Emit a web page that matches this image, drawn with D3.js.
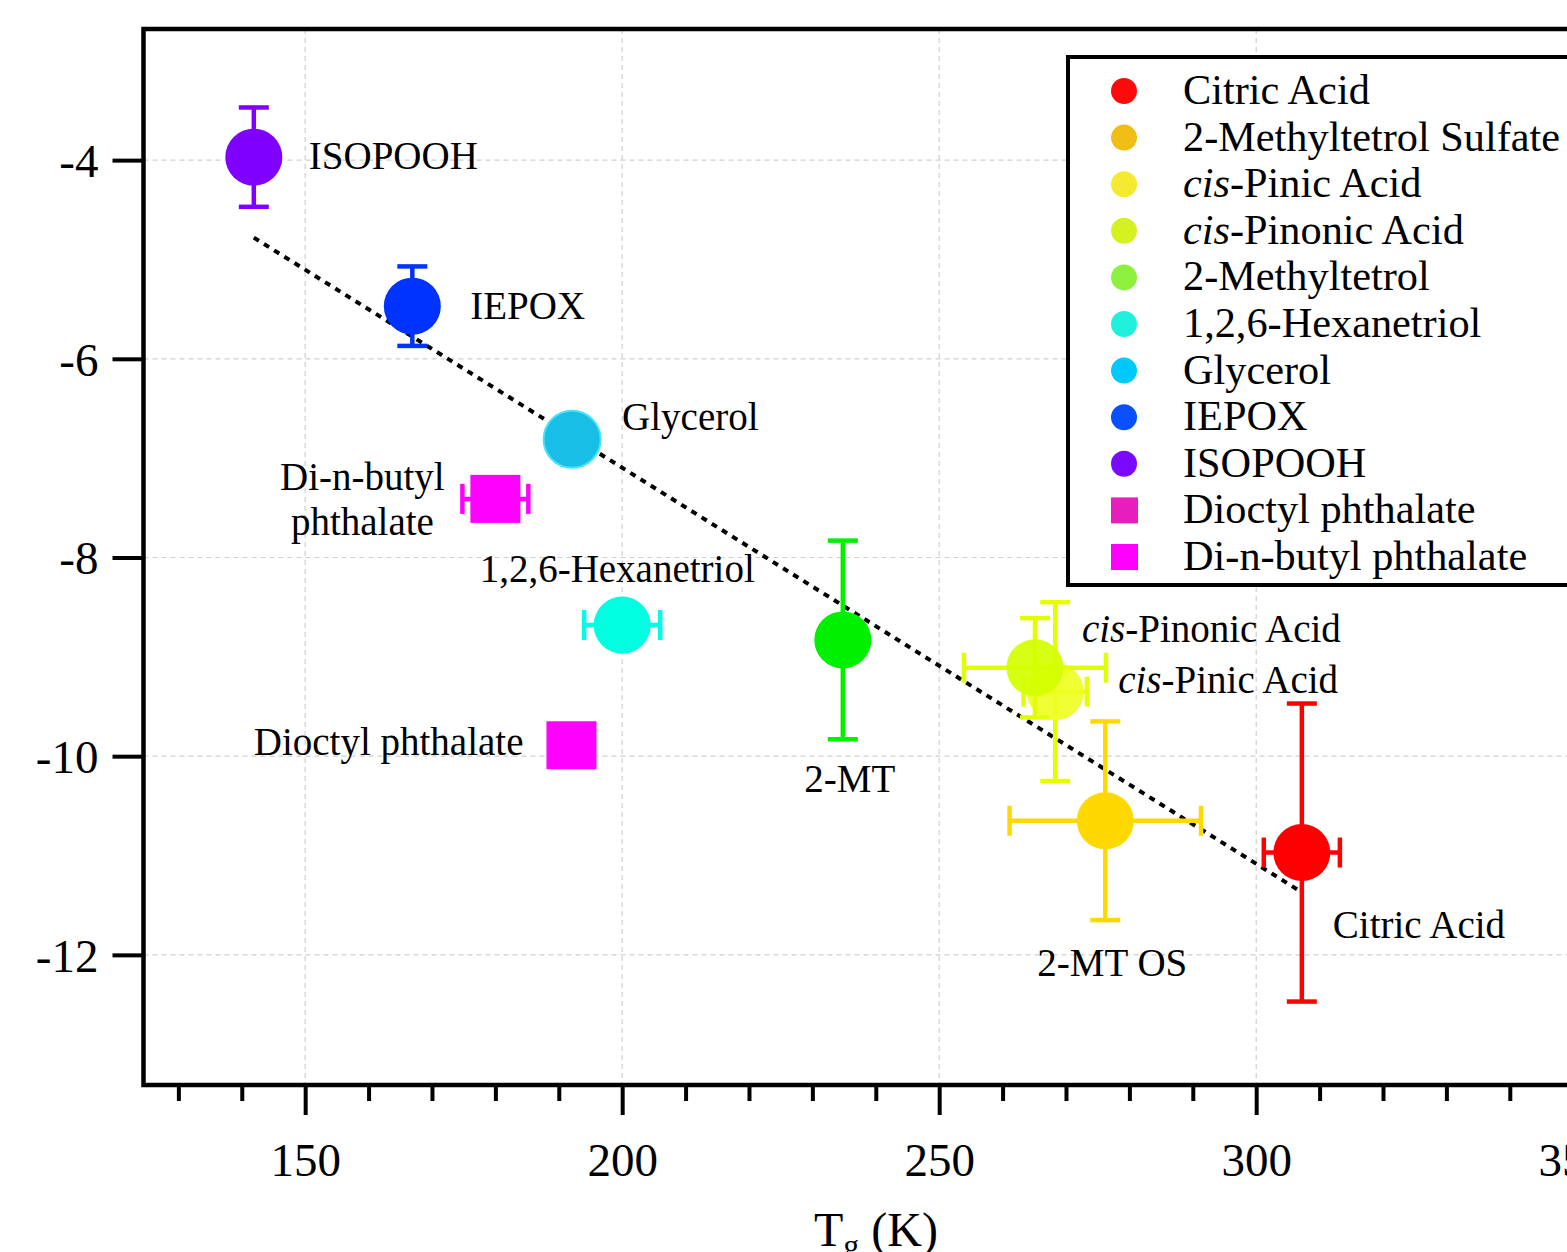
<!DOCTYPE html>
<html>
<head>
<meta charset="utf-8">
<script src="https://cdn.jsdelivr.net/npm/d3@7"></script>
<style>
  html, body { margin: 0; padding: 0; background: #fff; overflow: hidden; }
  svg { display: block; font-family: "Liberation Serif", "Times New Roman", serif; }
</style>
</head>
<body>
<svg id="chart" width="1567" height="1252"></svg>
<script>
// Glass transition temperature vs. log value for each compound
const compounds = ["ISOPOOH", "IEPOX", "Glycerol", "Di-n-butyl phthalate", "1,2,6-Hexanetriol",
  "Dioctyl phthalate", "2-MT", "cis-Pinic Acid", "cis-Pinonic Acid", "2-MT OS", "Citric Acid"];
const tgValues   = [141.9, 166.9, 192.1, 180.0, 200.0, 192.0, 234.8, 268.3, 265.1, 276.2, 307.2];
const logValues  = [-3.97, -5.47, -6.81, -7.41, -8.68, -9.89, -8.83, -9.35, -9.11, -10.65, -10.97];
const tgErrors   = [0, 0, 0, 5.2, 6.0, 0, 0, 5.0, 11.2, 15.1, 6.0];
const logErrors  = [0.5, 0.4, 0, 0, 0, 0, 1.0, 0.9, 0.5, 1.0, 1.5];
const markerShapes = ["circle", "circle", "circle", "square", "circle", "square", "circle", "circle", "circle", "circle", "circle"];
const markerColors = ["#7f00ff", "#0033ff", "#19bee6", "#ff00ff", "#00ffe1", "#ff00ff", "#00f000", "#eeff22", "#d4ff00", "#ffd800", "#ff0000"];
const errorColors  = ["#7f00ff", "#0033ff", "#19bee6", "#ff00ff", "#00ffe1", "#ff00ff", "#00f000", "#e6ff00", "#e2ff00", "#ffd800", "#ff0000"];

// Linear trend (dotted)
const trendTg  = [141.9, 307.2];
const trendLog = [-4.78, -11.37];

// Legend entries
const legendNames  = ["Citric Acid", "2-Methyltetrol Sulfate", "cis-Pinic Acid", "cis-Pinonic Acid", "2-Methyltetrol",
  "1,2,6-Hexanetriol", "Glycerol", "IEPOX", "ISOPOOH", "Dioctyl phthalate", "Di-n-butyl phthalate"];
const legendColors = ["#fe0a0a", "#f0be14", "#f5e932", "#d4f21f", "#8cf03c", "#1ef0dc", "#00c8fa", "#0a50ff", "#7a0aff", "#e61ebe", "#ff00ff"];
const legendShapes = ["circle", "circle", "circle", "circle", "circle", "circle", "circle", "circle", "circle", "square", "square"];

// Axis ticks
const xMajorTicks = [150, 200, 250, 300, 350];
const xMinorTicks = [130, 140, 160, 170, 180, 190, 210, 220, 230, 240, 260, 270, 280, 290, 310, 320, 330, 340];
const yTicks = [-4, -6, -8, -10, -12];

const svg = d3.select("#chart");
const x = d3.scaleLinear().domain([124.5, 350]).range([143.5, 1573.2]);
const y = d3.scaleLinear().domain([-13.31, -2.68]).range([1085, 29]);

// Grid
const grid = svg.append("g").attr("stroke", "#cfcfcf").attr("stroke-width", 1.2).attr("stroke-dasharray", "5,4");
grid.selectAll(".gv").data(xMajorTicks).join("line")
  .attr("x1", d => x(d)).attr("x2", d => x(d)).attr("y1", y.range()[1]).attr("y2", y.range()[0]);
grid.selectAll(".gh").data(yTicks).join("line")
  .attr("y1", d => y(d)).attr("y2", d => y(d)).attr("x1", x.range()[0]).attr("x2", x.range()[1]);

// Axes (plain hyphen for negative labels)
const plain = d => String(d);
const xAxisMajor = d3.axisBottom(x).tickValues(xMajorTicks).tickSize(30).tickPadding(28).tickFormat(plain);
const xAxisMinor = d3.axisBottom(x).tickValues(xMinorTicks).tickSize(16).tickFormat("");
const yAxis = d3.axisLeft(y).tickValues(yTicks).tickSize(31).tickPadding(14).tickFormat(plain);

function styleAxis(g) {
  g.select(".domain").remove();
  g.selectAll(".tick line").attr("stroke", "#000").attr("stroke-width", 4);
  g.selectAll(".tick text").attr("fill", "#000").attr("font-size", 47)
    .attr("font-family", "'Liberation Serif', 'Times New Roman', serif");
}
svg.append("g").attr("transform", `translate(0,${y.range()[0]})`).call(xAxisMinor).call(styleAxis);
svg.append("g").attr("transform", `translate(0,${y.range()[0]})`).call(xAxisMajor).call(styleAxis);
svg.append("g").attr("transform", `translate(${x.range()[0]},0)`).call(yAxis).call(styleAxis)
  .selectAll(".tick text").attr("dy", "0.35em");

// Frame
svg.append("rect")
  .attr("x", x.range()[0]).attr("y", y.range()[1])
  .attr("width", x.range()[1] - x.range()[0]).attr("height", y.range()[0] - y.range()[1])
  .attr("fill", "none").attr("stroke", "#000").attr("stroke-width", 4.5);

// X axis title
const xt = svg.append("text").attr("x", 876).attr("y", 1246).attr("text-anchor", "middle")
  .attr("font-size", 48).attr("fill", "#000");
xt.append("tspan").text("T");
xt.append("tspan").text("g").attr("font-size", 32).attr("dy", 10);
xt.append("tspan").text(" (K)").attr("dy", -10);

// Trend line
svg.append("line")
  .attr("x1", x(trendTg[0])).attr("y1", y(trendLog[0]))
  .attr("x2", x(trendTg[1])).attr("y2", y(trendLog[1]))
  .attr("stroke", "#000").attr("stroke-width", 4).attr("stroke-dasharray", "6,6");

// Points with error bars
const points = compounds.map((name, i) => ({
  name, tg: tgValues[i], lg: logValues[i], ex: tgErrors[i], ey: logErrors[i],
  shape: markerShapes[i], color: markerColors[i], ecolor: errorColors[i]
}));
const capHalf = 15;
const pg = svg.append("g");
points.forEach(p => {
  const g = pg.append("g").attr("stroke", p.ecolor).attr("stroke-width", 4.5);
  const cx = x(p.tg), cy = y(p.lg);
  if (p.ey > 0) {
    const y1 = y(p.lg + p.ey), y2 = y(p.lg - p.ey);
    g.append("line").attr("x1", cx).attr("x2", cx).attr("y1", y1).attr("y2", y2);
    g.append("line").attr("x1", cx - capHalf).attr("x2", cx + capHalf).attr("y1", y1).attr("y2", y1);
    g.append("line").attr("x1", cx - capHalf).attr("x2", cx + capHalf).attr("y1", y2).attr("y2", y2);
  }
  if (p.ex > 0) {
    const x1 = x(p.tg - p.ex), x2 = x(p.tg + p.ex);
    g.append("line").attr("y1", cy).attr("y2", cy).attr("x1", x1).attr("x2", x2);
    g.append("line").attr("y1", cy - capHalf).attr("y2", cy + capHalf).attr("x1", x1).attr("x2", x1);
    g.append("line").attr("y1", cy - capHalf).attr("y2", cy + capHalf).attr("x1", x2).attr("x2", x2);
  }
  if (p.shape === "circle") {
    pg.append("circle").attr("cx", cx).attr("cy", cy).attr("r", 28.5)
      .attr("fill", p.color)
      .attr("fill-opacity", p.name.startsWith("cis") ? 0.92 : 1)
      .attr("stroke", p.name === "Glycerol" ? "#45e3ff" : "none").attr("stroke-width", 2);
  } else {
    pg.append("rect").attr("x", cx - 25).attr("y", cy - 24).attr("width", 50).attr("height", 48)
      .attr("fill", p.color);
  }
});

// Point labels (offsets in px from the marker centre)
const labelLayout = {
  "ISOPOOH": { dx: 55, dy: 12, anchor: "start" },
  "IEPOX": { dx: 58, dy: 13, anchor: "start" },
  "Glycerol": { dx: 50, dy: -9, anchor: "start" },
  "Di-n-butyl phthalate": { dx: -133, dy: -9, anchor: "middle", lines: ["Di-n-butyl", "phthalate"] },
  "1,2,6-Hexanetriol": { dx: -5, dy: -43, anchor: "middle" },
  "Dioctyl phthalate": { dx: -48, dy: 10, anchor: "end" },
  "2-MT": { dx: 7, dy: 152, anchor: "middle" },
  "cis-Pinonic Acid": { dx: 47, dy: -26, anchor: "start" },
  "cis-Pinic Acid": { dx: 63, dy: 1, anchor: "start" },
  "2-MT OS": { dx: 7, dy: 155, anchor: "middle" },
  "Citric Acid": { dx: 31, dy: 85, anchor: "start" }
};

function writeName(textSel, name) {
  if (name.startsWith("cis-")) {
    textSel.append("tspan").attr("font-style", "italic").text("cis");
    textSel.append("tspan").text(name.slice(3));
  } else {
    textSel.text(name);
  }
}

const lg = svg.append("g").attr("font-size", 39).attr("fill", "#000");
points.forEach(p => {
  const L = labelLayout[p.name];
  const cx = x(p.tg), cy = y(p.lg);
  if (L.lines) {
    L.lines.forEach((line, k) => {
      lg.append("text").attr("x", cx + L.dx).attr("y", cy + L.dy + k * 45)
        .attr("text-anchor", L.anchor).text(line);
    });
  } else {
    const t = lg.append("text").attr("x", cx + L.dx).attr("y", cy + L.dy).attr("text-anchor", L.anchor);
    writeName(t, p.name);
  }
});

// Legend
const legend = svg.append("g").attr("transform", "translate(1068,57)");
legend.append("rect").attr("x", 0).attr("y", 0).attr("width", 540).attr("height", 528)
  .attr("fill", "#fff").attr("stroke", "#000").attr("stroke-width", 4);
legendNames.forEach((name, i) => {
  const ry = 34 + i * 46.6;
  if (legendShapes[i] === "circle") {
    legend.append("circle").attr("cx", 56).attr("cy", ry).attr("r", 13).attr("fill", legendColors[i]);
  } else {
    legend.append("rect").attr("x", 43).attr("y", ry - 13).attr("width", 27).attr("height", 26).attr("fill", legendColors[i]);
  }
  const t = legend.append("text").attr("x", 115).attr("y", ry + 13).attr("font-size", 42.3).attr("fill", "#000");
  writeName(t, name);
});
</script>
</body>
</html>
